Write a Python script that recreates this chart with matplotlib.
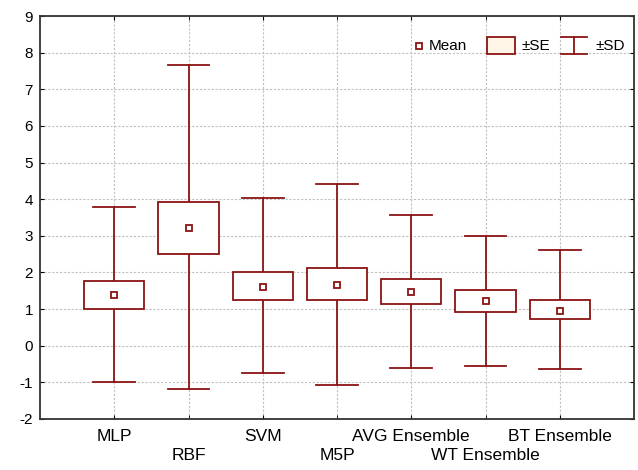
import matplotlib
matplotlib.use("Agg")
import matplotlib.pyplot as plt
from matplotlib.lines import Line2D
from matplotlib.patches import Rectangle

plt.rcParams['font.family'] = ['Liberation Sans', 'DejaVu Sans']
plt.rcParams['axes.unicode_minus'] = False

# data
models = ["MLP", "RBF", "SVM", "M5P", "AVG Ensemble", "WT Ensemble", "BT Ensemble"]
means = [1.39, 3.20, 1.61, 1.66, 1.48, 1.22, 0.96]
se_low = [1.00, 2.51, 1.26, 1.25, 1.14, 0.93, 0.73]
se_high = [1.77, 3.93, 2.01, 2.12, 1.81, 1.51, 1.24]
sd_low = [-1.00, -1.19, -0.74, -1.06, -0.60, -0.56, -0.63]
sd_high = [3.80, 7.66, 4.04, 4.42, 3.56, 3.00, 2.60]

red = "#8b1414"
box_w = 0.81
cap_w = 0.56
W, H = 638, 470


def fx(px):
    return px / W


def fy(py):
    return 1 - py / H


fig = plt.figure(figsize=(W / 100, H / 100), dpi=100)
ax = fig.add_axes([fx(40), fy(419), 594 / W, 403 / H])

pos = list(range(1, len(models) + 1))
for i, x in enumerate(pos):
    ax.plot([x, x], [sd_low[i], se_low[i]], color=red, lw=1.3, zorder=3)
    ax.plot([x, x], [se_high[i], sd_high[i]], color=red, lw=1.3, zorder=3)
    ax.plot([x - cap_w / 2, x + cap_w / 2], [sd_low[i]] * 2, color=red, lw=1.3, zorder=3)
    ax.plot([x - cap_w / 2, x + cap_w / 2], [sd_high[i]] * 2, color=red, lw=1.3, zorder=3)
    ax.add_patch(Rectangle((x - box_w / 2, se_low[i]), box_w, se_high[i] - se_low[i],
                           facecolor="white", edgecolor=red, lw=1.3, zorder=3))
ax.plot(pos, means, linestyle="none", marker="s", markersize=5,
        markerfacecolor="white", markeredgecolor=red, markeredgewidth=1.3, zorder=4)

ax.set_xlim(0, 8)
ax.set_ylim(-2, 9)
ax.set_yticks(range(-2, 10))
# odd categories on the first row, even ones on a second row
ax.set_xticks(pos[0::2])
ax.set_xticklabels(models[0::2])
ax.set_xticks(pos[1::2], minor=True)
ax.set_xticklabels(models[1::2], minor=True)
ax.tick_params(which="both", direction="in", length=3, top=True, right=True)
ax.tick_params(axis="y", labelsize=11, pad=5)
ax.tick_params(axis="x", which="major", labelsize=12.5, pad=7.5)
ax.tick_params(axis="x", which="minor", labelsize=12.5, pad=21.2)
ax.grid(True, axis="y", color="#c0c0c0", linestyle=(0, (2, 1.5)), linewidth=0.8)
ax.grid(True, axis="x", which="both", color="#c0c0c0", linestyle=(0, (2, 1.5)), linewidth=0.8)
ax.set_axisbelow(True)
for sp in ax.spines.values():
    sp.set_linewidth(1.3)
    sp.set_color("#333333")

# legend drawn by hand to match the spacing of the original
ly = 45.5
fig.add_artist(Line2D([fx(419)], [fy(ly)], linestyle="none", marker="s", markersize=5,
                      markerfacecolor="white", markeredgecolor=red, markeredgewidth=1.3))
fig.text(fx(429), fy(ly), "Mean", fontsize=11, va="center", ha="left")
fig.add_artist(Rectangle((fx(487), fy(54)), 28 / W, 17 / H, facecolor="#fff6e8",
                         edgecolor=red, linewidth=1.3, transform=fig.transFigure))
fig.text(fx(522), fy(ly), "\u00b1SE", fontsize=11, va="center", ha="left")
for xs, ys in [([561, 587], [37, 37]), ([561, 587], [54, 54]), ([574, 574], [37, 54])]:
    fig.add_artist(Line2D([fx(v) for v in xs], [fy(v) for v in ys], color=red, linewidth=1.3))
fig.text(fx(596), fy(ly), "\u00b1SD", fontsize=11, va="center", ha="left")

fig.savefig("out.png", dpi=100)
